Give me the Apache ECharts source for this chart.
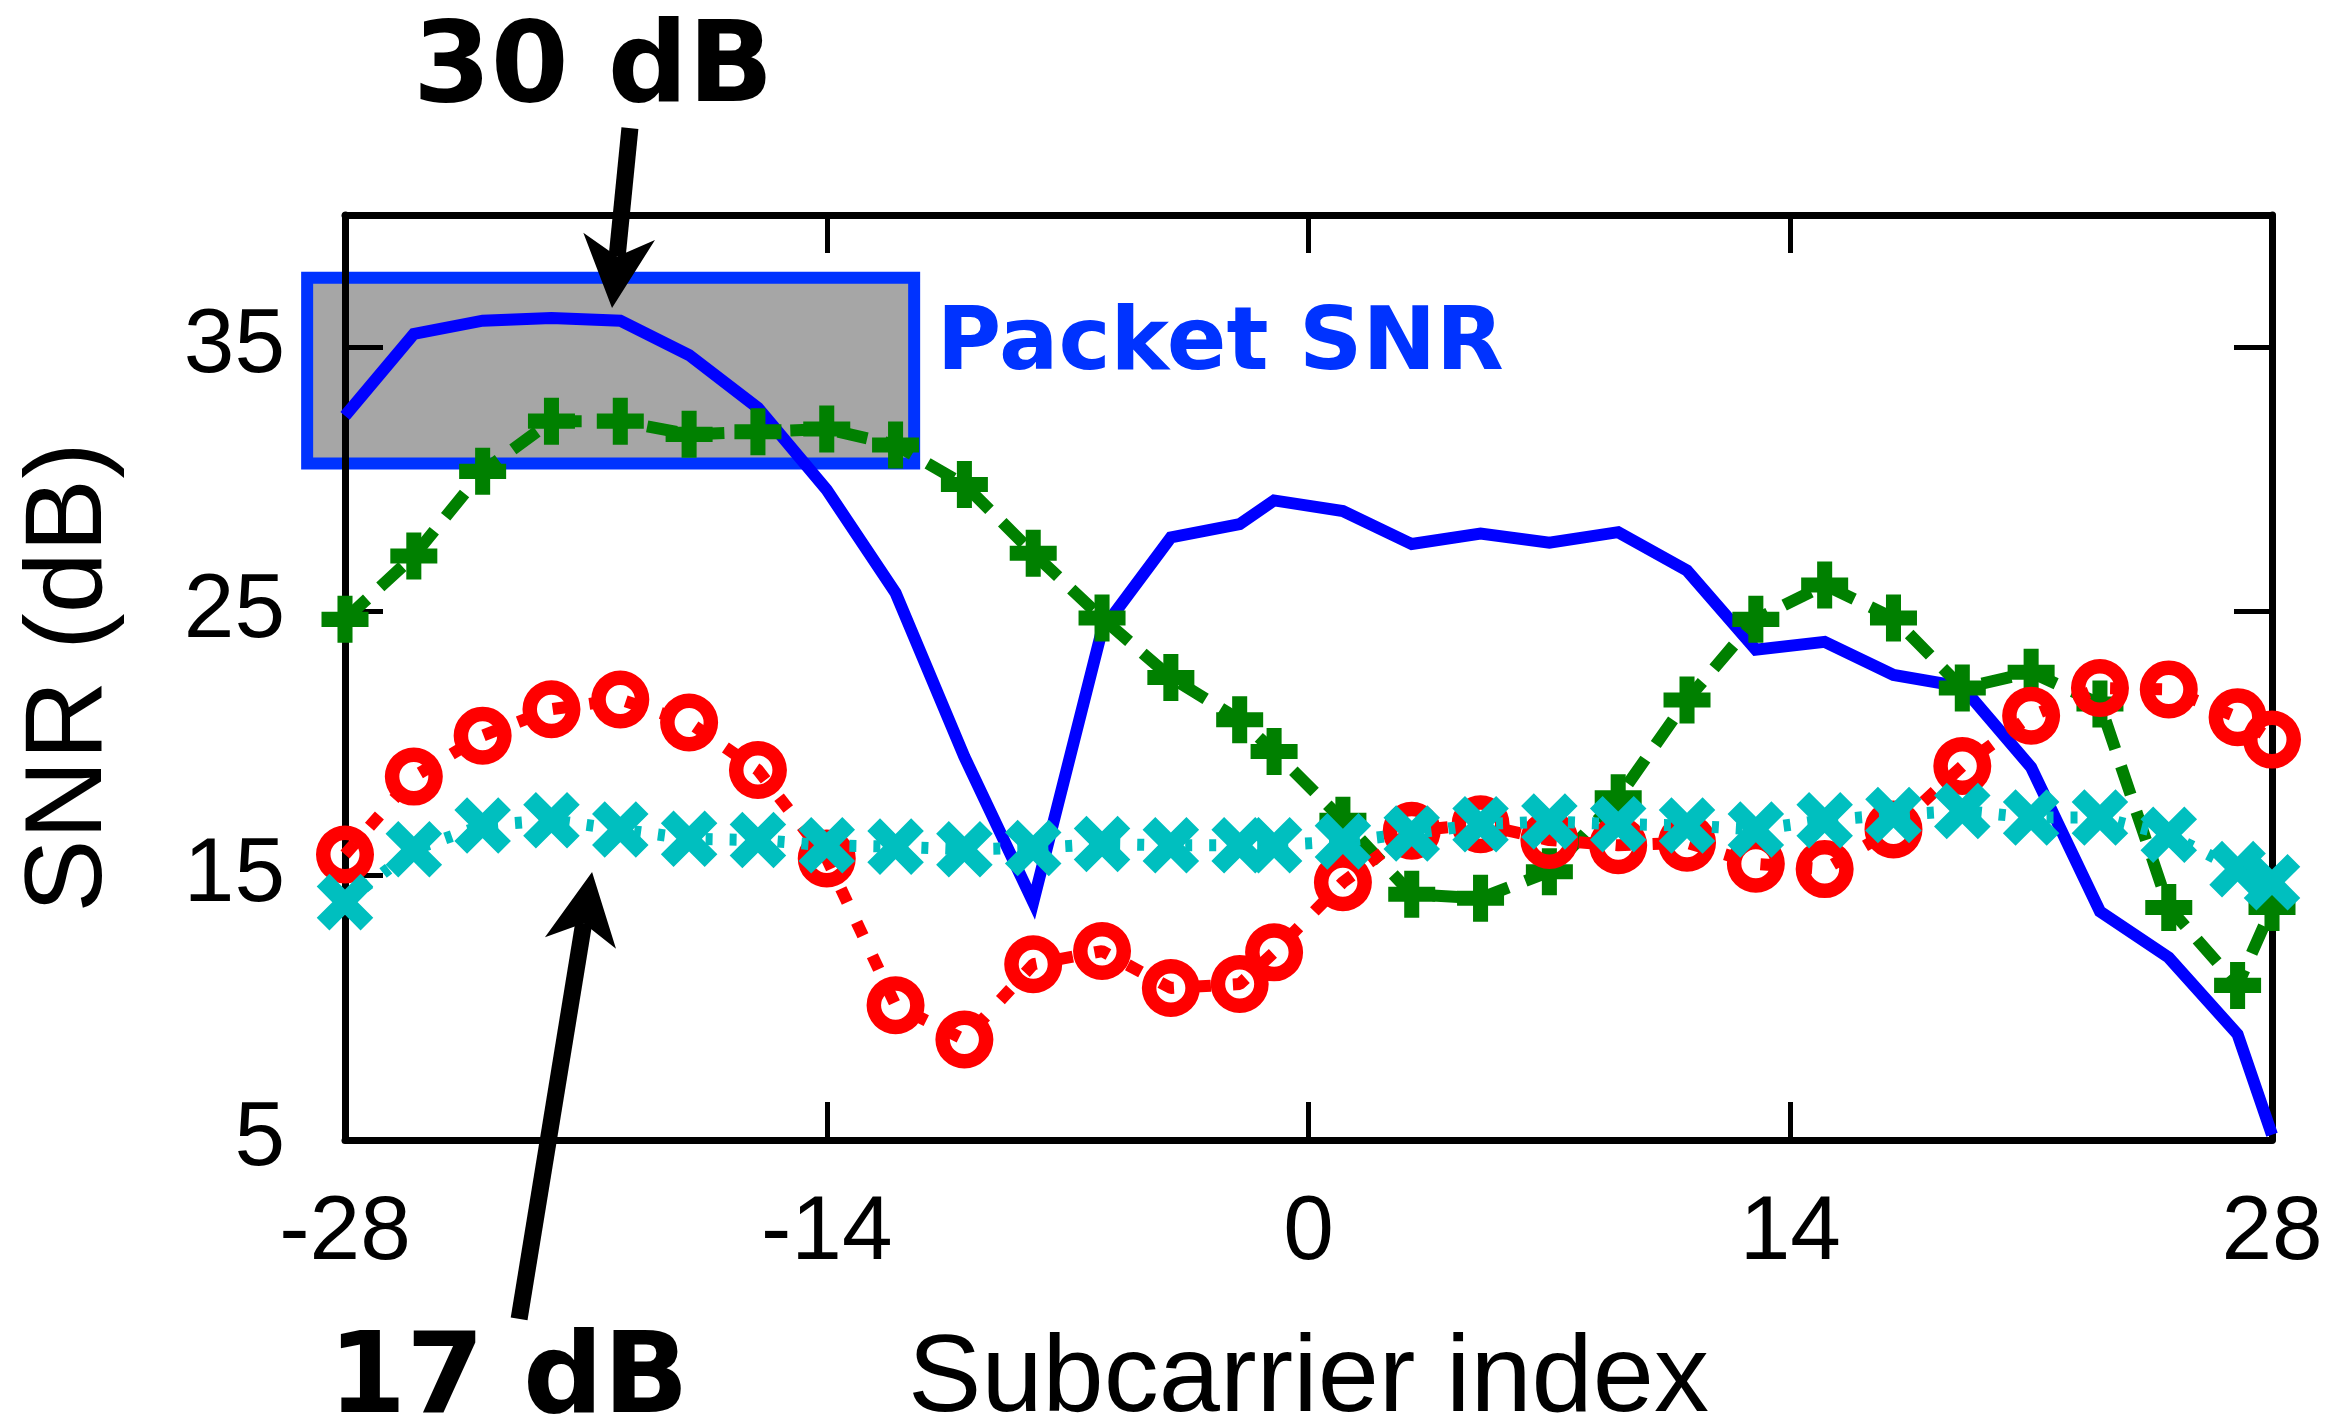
<!DOCTYPE html>
<html>
<head>
<meta charset="utf-8">
<title>SNR per subcarrier</title>
<script src="https://cdn.jsdelivr.net/npm/echarts@6/dist/echarts.min.js"></script>
<style>
  html, body { margin: 0; padding: 0; background: #ffffff; }
  #chart { width: 2337px; height: 1427px; }
</style>
</head>
<body>
<div id="chart"></div>
<script>
// Subcarrier indices that were measured
const subcarriers = [-28, -26, -24, -22, -20, -18, -16, -14, -12, -10, -8, -6, -4, -2, -1,
                     1, 3, 5, 7, 9, 11, 13, 15, 17, 19, 21, 23, 25, 27, 28];

// Per-subcarrier SNR (dB) for the four links
const snrBlue  = [32.4, 35.5, 36.0, 36.1, 36.0, 34.7, 32.7, 29.6, 25.7, 19.5, 14.0, 24.3, 27.8, 28.3, 29.2,
                  28.8, 27.55, 27.95, 27.6, 28.0, 26.55, 23.55, 23.85, 22.6, 22.15, 19.1, 13.65, 11.9, 9.0, 5.2];
const snrGreen = [24.7, 27.1, 30.3, 32.2, 32.2, 31.7, 31.8, 31.9, 31.3, 29.8, 27.2, 24.75, 22.5, 20.9, 19.7,
                  17.1, 14.3, 14.15, 15.15, 17.95, 21.65, 24.7, 26.0, 24.75, 22.1, 22.7, 21.5, 13.8, 10.85, 13.8];
const snrRed   = [15.8, 18.75, 20.3, 21.3, 21.67, 20.8, 19.0, 15.65, 10.1, 8.8, 11.65, 12.15, 10.75, 10.9, 12.1,
                  14.75, 16.7, 16.95, 16.35, 16.15, 16.25, 15.45, 15.25, 16.75, 19.15, 21.05, 22.1, 22.05, 21.0, 20.15];
const snrCyan  = [14.0, 16.0, 16.9, 17.1, 16.75, 16.4, 16.35, 16.15, 16.1, 16.0, 16.05, 16.2, 16.15, 16.15, 16.15,
                  16.3, 16.6, 16.95, 17.05, 16.95, 16.9, 16.75, 17.1, 17.3, 17.45, 17.2, 17.2, 16.55, 15.25, 14.75];

// Axis ticks
const xTicks = [-28, -14, 0, 14, 28];
const yTicks = [5, 15, 25, 35];

// Annotation anchors, in data units (subcarrier, dB)
const packetBox   = { x0: -29.1, x1: -11.46, y0: 30.6, y1: 37.63 };
const packetLabel = { x: -10.8, y: 35.05, text: 'Packet SNR' };
const noteHigh = { text: '30 dB', label: [-20.79, 45.4], tail: [-19.72, 43.29], tip: [-20.24, 36.48] };
const noteLow  = { text: '17 dB', label: [-23.25, -4.2], tail: [-22.94, -1.77], tip: [-20.82, 15.14] };

const pairs = ys => subcarriers.map((x, i) => [x, ys[i]]);

// Marker outlines: plus, cross (a plus turned 45°) and an open ring
const PLUS  = 'path://M34,0H66V34H100V66H66V100H34V66H0V34H34Z';
const CROSS = 'path://M35.5,0H64.5V35.5H100V64.5H64.5V100H35.5V64.5H0V35.5H35.5Z';
const RING  = 'path://M0,50A50,50,0,1,1,100,50A50,50,0,1,1,0,50Z' +
              'M25,50A25,25,0,1,0,75,50A25,25,0,1,0,25,50Z';

const tickFont = { fontFamily: 'Liberation Sans', fontSize: 91, color: '#000' };
const frameLine = { show: true, onZero: false, lineStyle: { color: '#000', width: 7 } };
const innerTick = { show: true, inside: true, length: 38, lineStyle: { color: '#000', width: 5 } };

const chart = echarts.init(document.getElementById('chart'), null, { renderer: 'canvas' });

chart.setOption({
  animation: false,
  backgroundColor: '#ffffff',
  grid: { left: 345, right: 65, top: 215, bottom: 287, containLabel: false, outerBoundsMode: 'none' },
  xAxis: [
    {
      type: 'value', position: 'bottom', min: -28, max: 28, interval: 14,
      axisLine: frameLine, axisTick: innerTick, splitLine: { show: false },
      axisLabel: Object.assign({ margin: 48, showMinLabel: true, showMaxLabel: true,
                                 customValues: xTicks }, tickFont),
      name: 'Subcarrier index', nameLocation: 'middle', nameGap: 186,
      nameTextStyle: { fontFamily: 'Liberation Sans', fontSize: 110, color: '#000' }
    },
    {
      type: 'value', position: 'top', min: -28, max: 28, interval: 14,
      axisLine: frameLine, axisTick: innerTick, splitLine: { show: false },
      axisLabel: { show: false }
    }
  ],
  yAxis: [
    {
      type: 'value', position: 'left', min: 5, max: 40,
      axisLine: frameLine,
      axisTick: Object.assign({ customValues: yTicks }, innerTick),
      splitLine: { show: false },
      axisLabel: Object.assign({ margin: 60, customValues: yTicks }, tickFont),
      name: 'SNR (dB)', nameLocation: 'middle', nameGap: 219,
      nameTextStyle: { fontFamily: 'Liberation Sans', fontSize: 110, color: '#000' }
    },
    {
      type: 'value', position: 'right', min: 5, max: 40,
      axisLine: frameLine,
      axisTick: Object.assign({ customValues: yTicks }, innerTick),
      splitLine: { show: false },
      axisLabel: { show: false }
    }
  ],
  series: [
    {
      name: 'Link 1', type: 'line', data: pairs(snrBlue), symbol: 'none', clip: false,
      lineStyle: { color: '#0000ff', width: 12, join: 'miter' }, z: 3
    },
    {
      name: 'Link 2', type: 'line', data: pairs(snrGreen), clip: false,
      symbol: PLUS, symbolSize: 47, showAllSymbol: true,
      itemStyle: { color: '#008000' },
      lineStyle: { color: '#008000', width: 12, type: [30, 18] }, z: 4
    },
    {
      name: 'Link 3', type: 'line', data: pairs(snrRed), clip: false,
      symbol: RING, symbolSize: 58, showAllSymbol: true,
      itemStyle: { color: '#ff0000' },
      lineStyle: { color: '#ff0000', width: 12, type: [15, 22] }, z: 5
    },
    {
      name: 'Link 4', type: 'line', data: pairs(snrCyan), clip: false,
      symbol: CROSS, symbolSize: 62, symbolRotate: 45, showAllSymbol: true,
      itemStyle: { color: '#00bfbf' },
      lineStyle: { color: '#00bfbf', width: 12, type: [7, 17] }, z: 6
    }
  ]
});

// Annotations placed through the chart's own coordinate conversion
const toPx = p => chart.convertToPixel({ xAxisIndex: 0, yAxisIndex: 0 }, p);

function arrow(note) {
  const a = toPx(note.tail), b = toPx(note.tip);
  const dx = b[0] - a[0], dy = b[1] - a[1];
  const len = Math.hypot(dx, dy);
  const ux = dx / len, uy = dy / len, nx = -uy, ny = ux;
  const L = 72, W = 36;
  const notch = [b[0] - ux * L * 0.72, b[1] - uy * L * 0.72];
  const w1 = [b[0] - ux * L + nx * W, b[1] - uy * L + ny * W];
  const w2 = [b[0] - ux * L - nx * W, b[1] - uy * L - ny * W];
  return [
    { type: 'polyline', z: 100, shape: { points: [a, notch] },
      style: { stroke: '#000', lineWidth: 17, lineCap: 'butt', fill: null } },
    { type: 'polygon', z: 100, shape: { points: [b, w1, notch, w2] },
      style: { fill: '#000', stroke: null } }
  ];
}

function noteText(note) {
  const p = toPx(note.label);
  return { type: 'text', z: 100, x: p[0], y: p[1],
    style: { text: note.text, fill: '#000', font: 'bold 112px "DejaVu Sans"',
             align: 'center', verticalAlign: 'middle',
             textAlign: 'center', textVerticalAlign: 'middle' } };
}

const boxTL = toPx([packetBox.x0, packetBox.y1]);
const boxBR = toPx([packetBox.x1, packetBox.y0]);
const lblPos = toPx([packetLabel.x, packetLabel.y]);

chart.setOption({
  graphic: [
    { type: 'rect', z: -1,
      shape: { x: boxTL[0], y: boxTL[1], width: boxBR[0] - boxTL[0], height: boxBR[1] - boxTL[1] },
      style: { fill: '#a6a6a6', stroke: '#0033ff', lineWidth: 12 } },
    { type: 'text', z: 100, x: lblPos[0], y: lblPos[1],
      style: { text: packetLabel.text, fill: '#0033ff', font: 'bold 88px "DejaVu Sans"',
               align: 'left', verticalAlign: 'middle',
               textAlign: 'left', textVerticalAlign: 'middle' } },
    ...arrow(noteHigh), noteText(noteHigh),
    ...arrow(noteLow), noteText(noteLow)
  ]
});
</script>
</body>
</html>
